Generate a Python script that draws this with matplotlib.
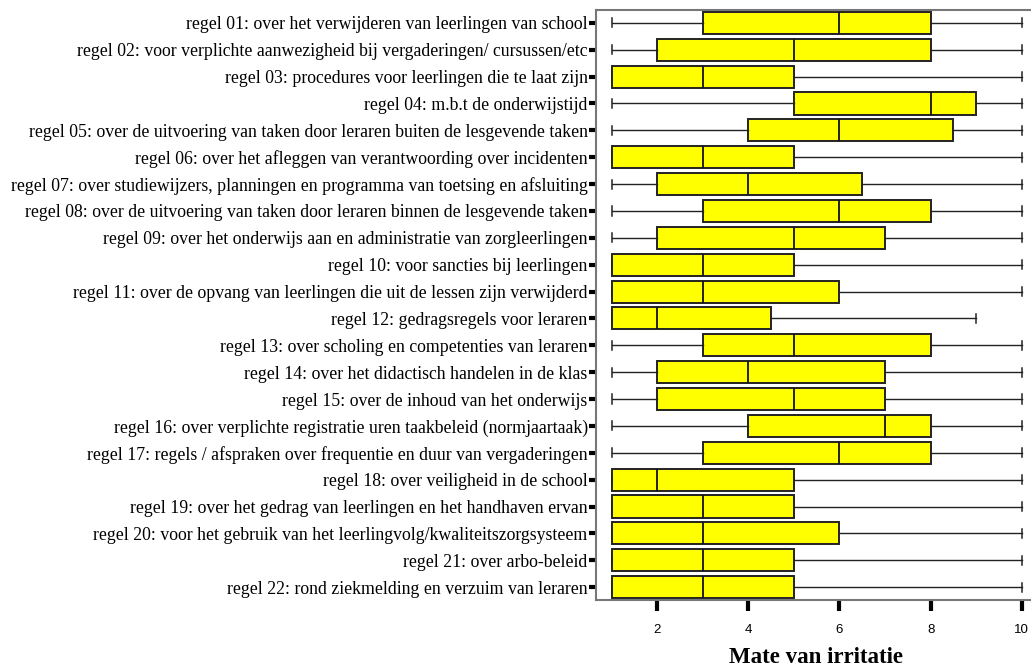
import matplotlib
matplotlib.use("Agg")
import matplotlib.pyplot as plt

labels = [
    "regel 01: over het verwijderen van leerlingen van school",
    "regel 02: voor verplichte aanwezigheid bij vergaderingen/ cursussen/etc",
    "regel 03: procedures voor leerlingen die te laat zijn",
    "regel 04: m.b.t de onderwijstijd",
    "regel 05: over de uitvoering van taken door leraren buiten de lesgevende taken",
    "regel 06: over het afleggen van verantwoording over incidenten",
    "regel 07: over studiewijzers, planningen en programma van toetsing en afsluiting",
    "regel 08: over de uitvoering van taken door leraren binnen de lesgevende taken",
    "regel 09: over het onderwijs aan en administratie van zorgleerlingen",
    "regel 10: voor sancties bij leerlingen",
    "regel 11: over de opvang van leerlingen die uit de lessen zijn verwijderd",
    "regel 12: gedragsregels voor leraren",
    "regel 13: over scholing en competenties van leraren",
    "regel 14: over het didactisch handelen in de klas",
    "regel 15: over de inhoud van het onderwijs",
    "regel 16: over verplichte registratie uren taakbeleid (normjaartaak)",
    "regel 17: regels / afspraken over frequentie en duur van vergaderingen",
    "regel 18: over veiligheid in de school",
    "regel 19: over het gedrag van leerlingen en het handhaven ervan",
    "regel 20: voor het gebruik van het leerlingvolg/kwaliteitszorgsysteem",
    "regel 21: over arbo-beleid",
    "regel 22: rond ziekmelding en verzuim van leraren",
]

# five-number summaries
mins = [1] * 22
q1s = [3, 2, 1, 5, 4, 1, 2, 3, 2, 1, 1, 1, 3, 2, 2, 4, 3, 1, 1, 1, 1, 1]
meds = [6, 5, 3, 8, 6, 3, 4, 6, 5, 3, 3, 2, 5, 4, 5, 7, 6, 2, 3, 3, 3, 3]
q3s = [8, 8, 5, 9, 8.5, 5, 6.5, 8, 7, 5, 6, 4.5, 8, 7, 7, 8, 8, 5, 5, 6, 5, 5]
maxs = [10] * 11 + [9] + [10] * 10

stats = []
for lab, lo, a, m, b, hi in zip(labels, mins, q1s, meds, q3s, maxs):
    stats.append({"label": lab, "whislo": lo, "q1": a, "med": m,
                  "q3": b, "whishi": hi, "fliers": []})

fig = plt.figure(figsize=(10.31, 6.68), dpi=100)
ax = fig.add_axes([596 / 1031, 68 / 668, 435 / 1031, 590 / 668])

n = len(stats)
positions = list(range(n, 0, -1))
ax.bxp(stats, positions=positions, vert=False, widths=0.82, capwidths=0.34,
       patch_artist=True,
       boxprops=dict(facecolor="#ffff00", edgecolor="#222222", linewidth=1.4),
       medianprops=dict(color="#111111", linewidth=1.3),
       whiskerprops=dict(color="#222222", linewidth=1.0),
       capprops=dict(color="#222222", linewidth=1.1))

ax.set_xlim(0.66, 10.2)
ax.set_ylim(0.52, n + 0.48)
ax.set_xticks([2, 4, 6, 8, 10])
ax.set_yticks(positions)
ax.set_yticklabels(labels, family="Liberation Serif", fontsize=12.8)
for t in ax.get_xticklabels():
    t.set_family("Liberation Sans")
    t.set_fontsize(9.5)
ax.tick_params(axis="y", length=5, width=3, pad=1, color="black")
ax.tick_params(axis="x", length=8, width=3, pad=9, color="black")

for side in ["left", "bottom", "top"]:
    ax.spines[side].set_color("#777777")
    ax.spines[side].set_linewidth(1.5)
ax.spines["right"].set_visible(False)

# axis title sits near the bottom edge, centred under the plot
fig.text(816 / 1031, 5 / 668, "Mate van irritatie",
         family="Liberation Serif", fontsize=16.5, fontweight="bold",
         ha="center", va="baseline")

fig.savefig("out.png", dpi=100)
